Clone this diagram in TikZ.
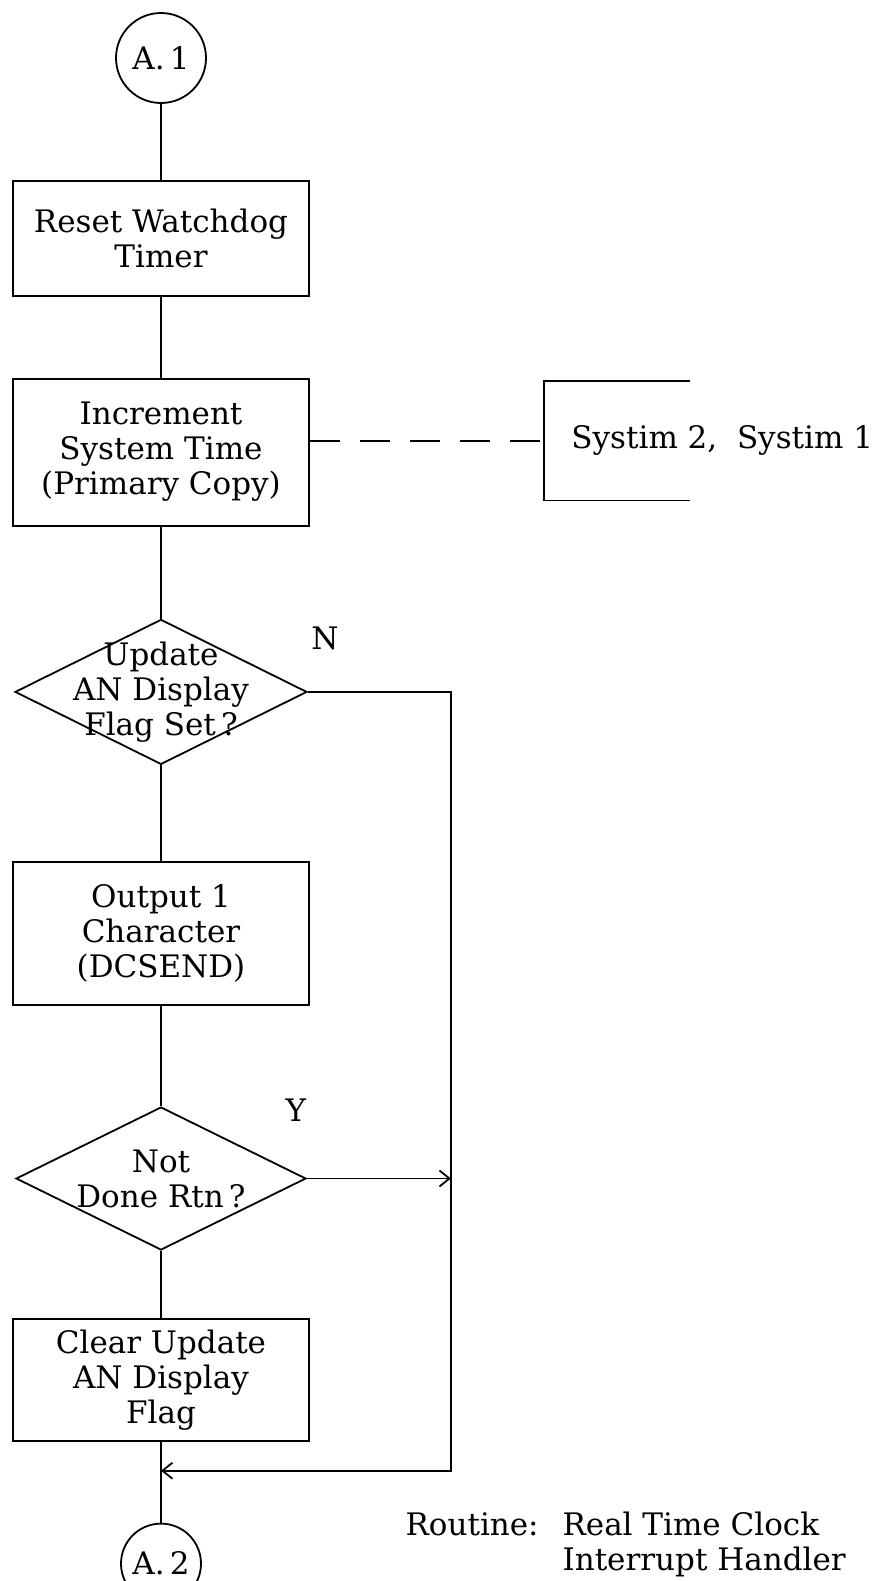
\documentclass[tikz,border=0pt]{standalone}
\usepackage{fontspec}
\setmainfont{DejaVu Serif}
\usetikzlibrary{shapes,arrows,arrows.meta,positioning}

\begin{document}
\begin{tikzpicture}[x=0.5pt,y=-0.5pt,line width=0.9pt,font=\fontsize{15.5}{17.5}\selectfont,
    >={Straight Barb[length=5pt,width=8pt]},
    block/.style={draw,rectangle,minimum width=148pt,align=center,inner sep=0pt},
    decision/.style={draw,diamond,minimum width=146pt,minimum height=72.5pt,inner sep=0pt},
    connect/.style={draw,circle,inner sep=0pt}]
\useasboundingbox (0,0) rectangle (885,1581);
\node (A1) [connect,minimum size=45pt] at (161,58) {A.\,1};
\node (Reset) [block,minimum height=57.5pt,below=38pt of A1] {Reset Watchdog\\Timer};
\node (Increment) [block,minimum height=73.5pt,below=40.5pt of Reset] {Increment\\System Time\\(Primary Copy)};
\node (Update) [decision,below=46pt of Increment] {};
\node (UpdateText) [align=center] at (Update) {Update\\AN Display\\Flag Set\,?};
\node (Output) [block,minimum height=71.5pt,below=48pt of Update] {Output 1\\Character\\(DCSEND)};
\node (NotDone) [decision,minimum width=145pt,minimum height=71.5pt,below=50pt of Output] {};
\node (NotDoneText) [align=center] at (NotDone) {Not\\Done Rtn\,?};
\node (Clear) [block,minimum height=61pt,below=33.5pt of NotDone] {Clear Update\\AN Display\\Flag};
\node (A2) [connect,minimum size=40pt,below=40.5pt of Clear] {A.\,2};
\coordinate [below=14.5pt of Clear] (Merge);
\coordinate [right=71.5pt of Update.east] (Bus);
% data store
\node (Store) [minimum width=72pt,minimum height=59pt,inner sep=0pt,right=117pt of Increment,yshift=5.75pt] {};
\draw (Store.north east) -- (Store.north west) -- (Store.south west) -- (Store.south east);
\node (Systim) [right=10pt of Store.west] {Systim 2,\ \ Systim 1};
\draw[dash pattern=on 15pt off 10pt] ([yshift=5.75pt]Increment.east) -- (Store.west);
% branch labels
\node (N) at ([shift={(17,-53)}]Update.east) {N};
\node (Y) at ([shift={(-11,-68)}]NotDone.east) {Y};
\draw (A1) -- (Reset) -- (Increment) -- (Update) -- (Output) -- (NotDone) -- (Clear) -- (A2);
\draw[->] (Update.east) -- (Bus) |- (Merge);
\draw[->] (NotDone.east) -- (Bus |- NotDone.east);
\node (Routine) [anchor=base west] at (398,1535) {Routine:};
\node (Handler) [anchor=base west,align=left] at (555,1570) {Real Time Clock\\Interrupt Handler};
\end{tikzpicture}
\end{document}
